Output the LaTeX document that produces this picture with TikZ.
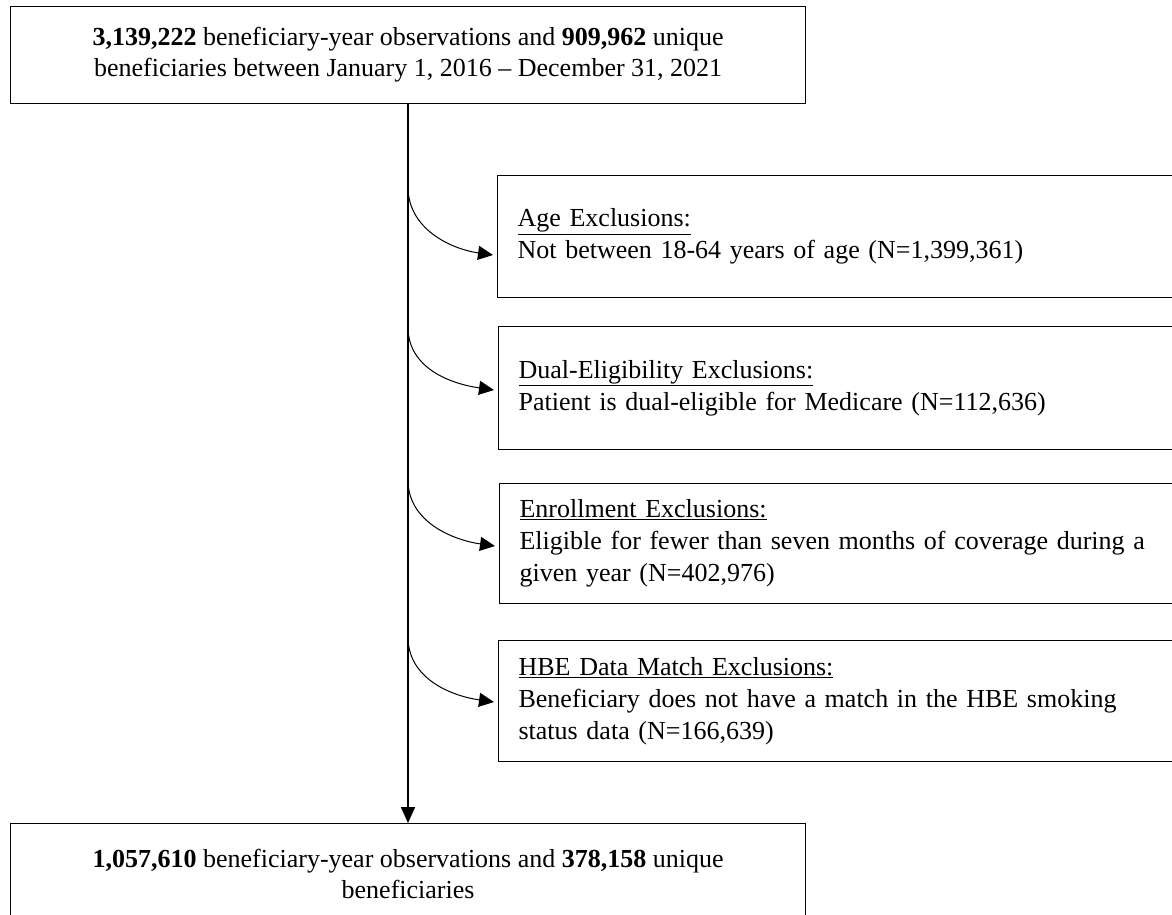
\documentclass[tikz,border=0pt]{standalone}
\usepackage{fontspec}
\setmainfont{Liberation Serif}
\usetikzlibrary{arrows.meta}
\tikzset{
    count-box/.style = {draw, line width=1.2pt, rectangle, align=center, inner sep=0pt, minimum width=795pt, anchor=north west, font=\fontsize{26}{31}\selectfont},
    excl-box/.style = {draw, line width=1.2pt, rectangle, align=left, inner xsep=20pt, inner ysep=0pt, text width=650pt, minimum width=690pt, minimum height=122pt, anchor=north west, font=\fontsize{26}{32}\selectfont},
    excl-arrow/.style = {line width=1pt, -{Triangle[length=15pt,width=14pt]}},
    spine-arrow/.style = {line width=1.8pt, -{Triangle[length=16pt,width=14pt]}},
}

\begin{document}
\begin{tikzpicture}[x=1pt,y=-1pt]
\useasboundingbox (0,0) rectangle (1172,915);
\node[count-box, minimum height=97pt] (start) at (10,6) {\textbf{3,139,222} beneficiary-year observations and \textbf{909,962} unique\\beneficiaries between January 1, 2016 -- December 31, 2021};
\node[excl-box] (age) at (497,175) {\underline{Age Exclusions:}\\Not between 18-64 years of age (N=1,399,361)};
\node[excl-box, minimum height=123pt] (dual) at (498,326) {\underline{Dual-Eligibility Exclusions:}\\Patient is dual-eligible for Medicare (N=112,636)};
\node[excl-box, minimum height=120pt] (enroll) at (499,483) {\underline{Enrollment Exclusions:}\\Eligible for fewer than seven months of coverage during a\\given year (N=402,976)};
\node[excl-box, minimum height=121pt] (match) at (498,640) {\underline{HBE Data Match Exclusions:}\\Beneficiary does not have a match in the HBE smoking\\status data (N=166,639)};
\node[count-box, minimum height=101pt] (final) at (10,823) {\textbf{1,057,610} beneficiary-year observations and \textbf{378,158} unique\\beneficiaries};
\coordinate (spine) at (408,0);
% main flow
\draw[spine-arrow] (start.south -| spine) -- (final.north -| spine);
% exclusions
\foreach \excl/\from/\drop in {age/187/80, dual/327/64, enroll/480/63, match/637/62}
    \draw[excl-arrow] (spine |- 0,\from) .. controls +(0,42) and +(-42,-6) .. ([xshift=-4pt,yshift=-\drop pt]\excl.north west);
\end{tikzpicture}
\end{document}
